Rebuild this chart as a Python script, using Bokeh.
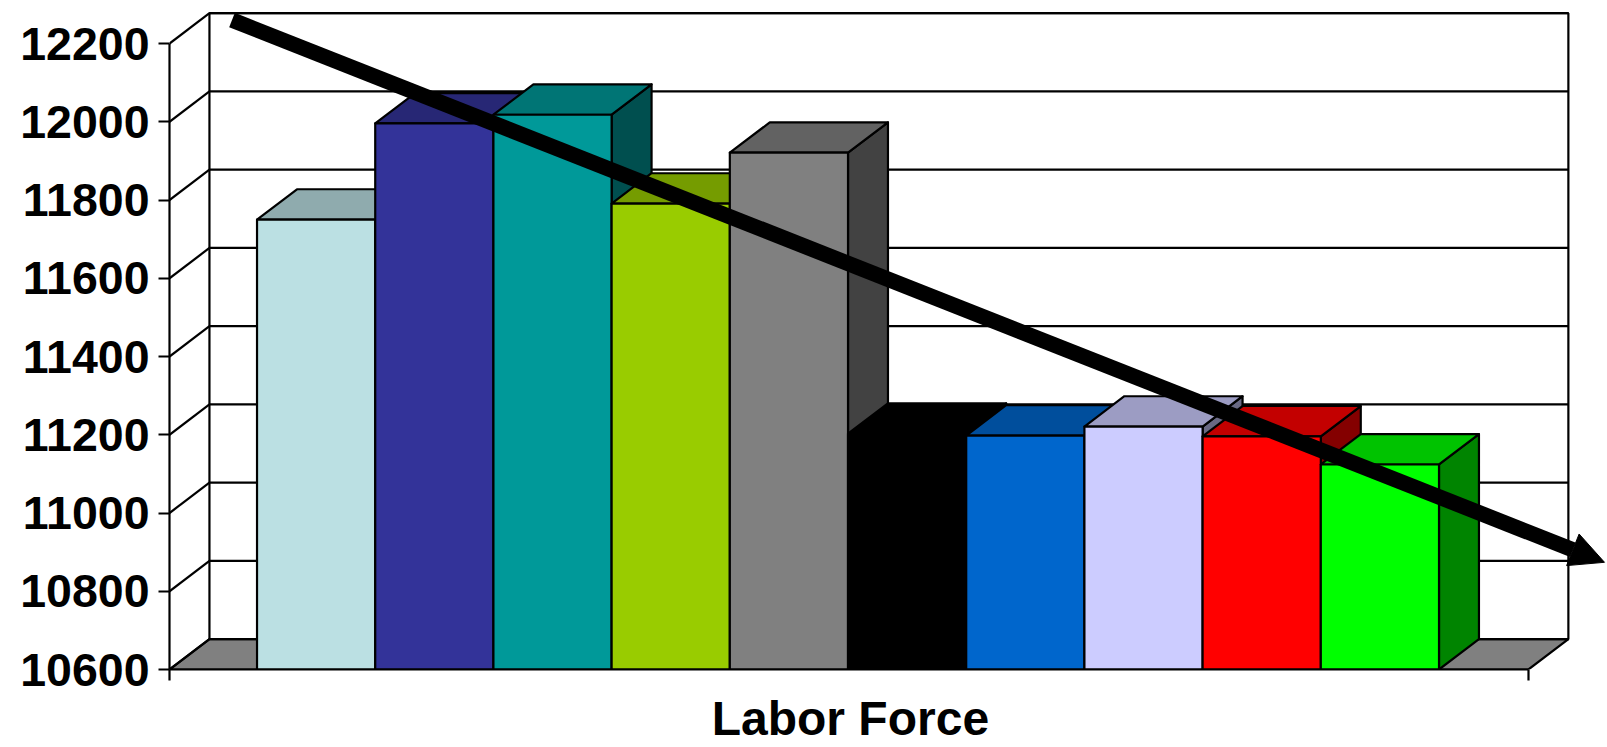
from bokeh.plotting import figure
from bokeh.models import Range1d, LinearAxis, FixedTicker, Arrow, NormalHead
from bokeh.embed import file_html
from bokeh.resources import INLINE

# ---- data ----
category_label = "Labor Force"
series_values = [11750, 11996, 12018, 11791, 11921, 11203, 11198, 11221, 11196, 11124]
y_ticks = [10600, 10800, 11000, 11200, 11400, 11600, 11800, 12000, 12200]
trend_x = [-0.2115, 11.40]
trend_y = [12260, 10874]

# ---- styles ----
series_colors = ["#BBE0E3", "#333399", "#009999", "#99CC00", "#808080",
                 "#000000", "#0066CC", "#CCCCFF", "#FF0000", "#00FF00"]
TOP_SHADE, SIDE_SHADE = 0.765, 0.516
FONT = "Liberation Sans"

# ---- plot geometry: one unit of x is one bar ----
W, H = 1607, 747
FRAME_L, FRAME_B = 169, 669
X0, X1 = -0.7405, 10.7565   # ends of the floor's front edge
XR = (-0.7405, 11.4255)
Y0 = 10600
YTOP = 12310
DX, DY = 0.338, 77.5         # 3-D depth in axis units
CAT_TICK = 5.02
LW = 2.2


def shade(hex_color, f):
    r, g, b = (int(hex_color[i:i + 2], 16) for i in (1, 3, 5))
    return "#%02X%02X%02X" % (round(r * f), round(g * f), round(b * f))


p = figure(width=W, height=H, output_backend="svg", toolbar_location=None,
           x_range=Range1d(*XR), y_range=Range1d(Y0, YTOP),
           x_axis_location=None, y_axis_location=None,
           min_border_left=FRAME_L, min_border_right=0, min_border_top=0,
           min_border_bottom=H - FRAME_B, outline_line_color=None,
           background_fill_color="white", border_fill_color="white")
p.grid.visible = False

# back wall and floor
top = y_ticks[-1] + DY
p.patch([X0 + DX, X1 + DX, X1 + DX, X0 + DX], [Y0 + DY, Y0 + DY, top, top],
        fill_color="white", line_color="black", line_width=LW)
p.patch([X0, X0 + DX, X1 + DX, X1], [Y0, Y0 + DY, Y0 + DY, Y0],
        fill_color="#808080", line_color="black", line_width=LW)
p.segment([X0 + DX] * len(y_ticks), [t + DY for t in y_ticks],
          [X1 + DX] * len(y_ticks), [t + DY for t in y_ticks],
          line_color="black", line_width=LW)
p.segment([X0] * len(y_ticks), y_ticks,
          [X0 + DX] * len(y_ticks), [t + DY for t in y_ticks],
          line_color="black", line_width=LW)

# bars, painted left to right
for i, (v, c) in enumerate(zip(series_values, series_colors)):
    l, r = float(i), float(i + 1)
    p.patches(
        [[r, r + DX, r + DX, r], [l, l + DX, r + DX, r], [l, r, r, l]],
        [[Y0, Y0 + DY, v + DY, v], [v, v + DY, v + DY, v], [Y0, Y0, v, v]],
        fill_color=[shade(c, SIDE_SHADE), shade(c, TOP_SHADE), c],
        line_color="black", line_width=LW, line_join="round")

# axes
yax = LinearAxis(ticker=FixedTicker(ticks=y_ticks), bounds=(Y0, y_ticks[-1]))
yax.axis_line_color = "black"
yax.axis_line_width = LW
yax.major_tick_line_width = LW
yax.major_tick_out = 11
yax.major_tick_in = 0
yax.minor_tick_line_color = None
yax.major_label_standoff = 9
yax.major_label_text_font = FONT
yax.major_label_text_font_style = "bold"
yax.major_label_text_font_size = "46.5px"
yax.major_label_text_color = "black"
p.add_layout(yax, "left")

xax = LinearAxis(ticker=FixedTicker(ticks=[CAT_TICK], minor_ticks=[X0, X1]), bounds=(X0, X1))
xax.major_label_overrides = {CAT_TICK: category_label}
xax.axis_line_color = "black"
xax.axis_line_width = LW
xax.major_tick_line_color = None
xax.major_tick_out = 0
xax.major_tick_in = 0
xax.minor_tick_line_color = "black"
xax.minor_tick_line_width = LW
xax.minor_tick_out = 11
xax.minor_tick_in = 0
xax.major_label_standoff = 11
xax.major_label_text_font = FONT
xax.major_label_text_font_style = "bold"
xax.major_label_text_font_size = "48px"
xax.major_label_text_color = "black"
p.add_layout(xax, "below")

# trend arrow
p.add_layout(Arrow(end=NormalHead(size=34, fill_color="black", line_color="black"),
                   x_start=trend_x[0], y_start=trend_y[0],
                   x_end=trend_x[1], y_end=trend_y[1],
                   line_color="black", line_width=15.5))

open("out.html", "w").write(file_html(p, INLINE))
